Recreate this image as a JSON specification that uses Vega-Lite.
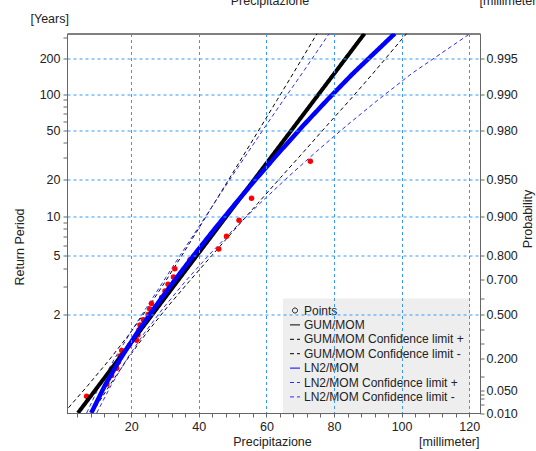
{
  "$schema": "https://vega.github.io/schema/vega-lite/v6.json",
  "width": 413,
  "height": 379.5,
  "autosize": {"type": "none"},
  "padding": {"left": 67, "top": 33.5, "right": 56, "bottom": 38},
  "background": "white",
  "title": {"text": "Arasi, Precipitazioni 1 ora", "font": "Liberation Sans", "fontSize": 14.5, "fontWeight": "bold", "color": "#000", "anchor": "middle", "frame": "group", "offset": 5},
  "datasets": {
    "gumconf": [
      {"series": "GUM/MOM Confidence limit -", "y": -1.527, "x": 0.09},
      {"series": "GUM/MOM Confidence limit -", "y": -1, "x": 7.14},
      {"series": "GUM/MOM Confidence limit -", "y": -0.5, "x": 13.57},
      {"series": "GUM/MOM Confidence limit -", "y": 0, "x": 19.56},
      {"series": "GUM/MOM Confidence limit -", "y": 0.5, "x": 25.02},
      {"series": "GUM/MOM Confidence limit -", "y": 1, "x": 30.09},
      {"series": "GUM/MOM Confidence limit -", "y": 1.5, "x": 34.98},
      {"series": "GUM/MOM Confidence limit -", "y": 2, "x": 39.76},
      {"series": "GUM/MOM Confidence limit -", "y": 2.5, "x": 44.5},
      {"series": "GUM/MOM Confidence limit -", "y": 3, "x": 49.21},
      {"series": "GUM/MOM Confidence limit -", "y": 3.5, "x": 53.9},
      {"series": "GUM/MOM Confidence limit -", "y": 4, "x": 58.58},
      {"series": "GUM/MOM Confidence limit -", "y": 4.5, "x": 63.25},
      {"series": "GUM/MOM Confidence limit -", "y": 5, "x": 67.91},
      {"series": "GUM/MOM Confidence limit -", "y": 5.77, "x": 75.0},
      {"series": "GUM/MOM Confidence limit +", "y": -1.527, "x": 8.39},
      {"series": "GUM/MOM Confidence limit +", "y": -1, "x": 13.58},
      {"series": "GUM/MOM Confidence limit +", "y": -0.5, "x": 18.77},
      {"series": "GUM/MOM Confidence limit +", "y": 0, "x": 24.4},
      {"series": "GUM/MOM Confidence limit +", "y": 0.5, "x": 30.56},
      {"series": "GUM/MOM Confidence limit +", "y": 1, "x": 37.11},
      {"series": "GUM/MOM Confidence limit +", "y": 1.5, "x": 43.84},
      {"series": "GUM/MOM Confidence limit +", "y": 2, "x": 50.6},
      {"series": "GUM/MOM Confidence limit +", "y": 2.5, "x": 57.4},
      {"series": "GUM/MOM Confidence limit +", "y": 3, "x": 64.2},
      {"series": "GUM/MOM Confidence limit +", "y": 3.5, "x": 71.1},
      {"series": "GUM/MOM Confidence limit +", "y": 4, "x": 77.9},
      {"series": "GUM/MOM Confidence limit +", "y": 4.5, "x": 84.8},
      {"series": "GUM/MOM Confidence limit +", "y": 5, "x": 91.5},
      {"series": "GUM/MOM Confidence limit +", "y": 5.77, "x": 101.5}
    ],
    "ln2conf": [
      {"series": "LN2/MOM Confidence limit -", "y": -1.527, "x": 6.82},
      {"series": "LN2/MOM Confidence limit -", "y": -1, "x": 10.63},
      {"series": "LN2/MOM Confidence limit -", "y": -0.5, "x": 14.91},
      {"series": "LN2/MOM Confidence limit -", "y": 0, "x": 19.61},
      {"series": "LN2/MOM Confidence limit -", "y": 0.5, "x": 24.51},
      {"series": "LN2/MOM Confidence limit -", "y": 1, "x": 29.46},
      {"series": "LN2/MOM Confidence limit -", "y": 1.5, "x": 34.44},
      {"series": "LN2/MOM Confidence limit -", "y": 2, "x": 39.46},
      {"series": "LN2/MOM Confidence limit -", "y": 2.5, "x": 44.5},
      {"series": "LN2/MOM Confidence limit -", "y": 3, "x": 49.56},
      {"series": "LN2/MOM Confidence limit -", "y": 3.5, "x": 54.68},
      {"series": "LN2/MOM Confidence limit -", "y": 4, "x": 59.87},
      {"series": "LN2/MOM Confidence limit -", "y": 4.5, "x": 65.14},
      {"series": "LN2/MOM Confidence limit -", "y": 5, "x": 70.53},
      {"series": "LN2/MOM Confidence limit -", "y": 5.77, "x": 78.6},
      {"series": "LN2/MOM Confidence limit +", "y": -1.527, "x": 9.79},
      {"series": "LN2/MOM Confidence limit +", "y": -1, "x": 14.0},
      {"series": "LN2/MOM Confidence limit +", "y": -0.5, "x": 18.59},
      {"series": "LN2/MOM Confidence limit +", "y": 0, "x": 23.79},
      {"series": "LN2/MOM Confidence limit +", "y": 0.5, "x": 29.59},
      {"series": "LN2/MOM Confidence limit +", "y": 1, "x": 35.96},
      {"series": "LN2/MOM Confidence limit +", "y": 1.5, "x": 42.86},
      {"series": "LN2/MOM Confidence limit +", "y": 2, "x": 50.25},
      {"series": "LN2/MOM Confidence limit +", "y": 2.5, "x": 58.04},
      {"series": "LN2/MOM Confidence limit +", "y": 3, "x": 66.22},
      {"series": "LN2/MOM Confidence limit +", "y": 3.5, "x": 74.79},
      {"series": "LN2/MOM Confidence limit +", "y": 4, "x": 83.75},
      {"series": "LN2/MOM Confidence limit +", "y": 4.5, "x": 93.15},
      {"series": "LN2/MOM Confidence limit +", "y": 5, "x": 102.99},
      {"series": "LN2/MOM Confidence limit +", "y": 5.77, "x": 120.3}
    ],
    "gum": [
      {"series": "GUM/MOM", "y": -1.527, "x": 4.24},
      {"series": "GUM/MOM", "y": 0, "x": 21.98},
      {"series": "GUM/MOM", "y": 2, "x": 45.22},
      {"series": "GUM/MOM", "y": 4, "x": 68.46},
      {"series": "GUM/MOM", "y": 5.77, "x": 89.03}
    ],
    "ln2": [
      {"series": "LN2/MOM", "y": -1.527, "x": 8.17},
      {"series": "LN2/MOM", "y": -1, "x": 12.2},
      {"series": "LN2/MOM", "y": -0.5, "x": 16.65},
      {"series": "LN2/MOM", "y": 0, "x": 21.6},
      {"series": "LN2/MOM", "y": 0.5, "x": 26.93},
      {"series": "LN2/MOM", "y": 1, "x": 32.55},
      {"series": "LN2/MOM", "y": 1.5, "x": 38.42},
      {"series": "LN2/MOM", "y": 2, "x": 44.53},
      {"series": "LN2/MOM", "y": 2.5, "x": 50.82},
      {"series": "LN2/MOM", "y": 3, "x": 57.29},
      {"series": "LN2/MOM", "y": 3.5, "x": 64.0},
      {"series": "LN2/MOM", "y": 4, "x": 70.9},
      {"series": "LN2/MOM", "y": 4.5, "x": 78.1},
      {"series": "LN2/MOM", "y": 5, "x": 85.6},
      {"series": "LN2/MOM", "y": 5.77, "x": 98.0}
    ],
    "points": [
      {"x": 6.8, "y": -1.2036},
      {"x": 12.8, "y": -0.9704},
      {"x": 14.2, "y": -0.8036},
      {"x": 15.7, "y": -0.6658},
      {"x": 16.2, "y": -0.544},
      {"x": 16.7, "y": -0.432},
      {"x": 17.2, "y": -0.3266},
      {"x": 19.5, "y": -0.2254},
      {"x": 21.6, "y": -0.1266},
      {"x": 22.0, "y": -0.0292},
      {"x": 22.3, "y": 0.068},
      {"x": 22.6, "y": 0.1657},
      {"x": 23.6, "y": 0.2648},
      {"x": 25.0, "y": 0.3665},
      {"x": 25.5, "y": 0.4713},
      {"x": 26.0, "y": 0.5805},
      {"x": 29.0, "y": 0.6951},
      {"x": 30.0, "y": 0.8169},
      {"x": 30.9, "y": 0.9472},
      {"x": 32.5, "y": 1.0892},
      {"x": 32.9, "y": 1.2459},
      {"x": 37.4, "y": 1.4222},
      {"x": 45.9, "y": 1.626},
      {"x": 48.2, "y": 1.8698},
      {"x": 51.9, "y": 2.1775},
      {"x": 55.6, "y": 2.6022},
      {"x": 73.0, "y": 3.3141}
    ]
  },
  "layer": [
    {
      "data": {"name": "gumconf"},
      "mark": {"type": "line", "strokeWidth": 1, "clip": true},
      "encoding": {
        "x": {"field": "x", "type": "quantitative", "scale": {"domain": [1, 123.2], "nice": false, "zero": false},
          "axis": {"orient": "bottom", "zindex": 1, "values": [4,8,12,16,20,24,28,32,36,40,44,48,52,56,60,64,68,72,76,80,84,88,92,96,100,104,108,112,116,120],
            "labelExpr": "datum.value % 20 == 0 ? datum.label : ''", "labelFlush": false, "labelOverlap": false,
            "grid": true, "gridOpacity": {"condition": {"test": "datum.value % 20 == 0", "value": 1}, "value": 0},
            "tickSize": 4, "labelPadding": 3,
            "title": "Precipitazione", "titleX": 205, "titleY": 32, "titleAlign": "center", "titleBaseline": "alphabetic"}},
        "y": {"field": "y", "type": "quantitative", "scale": {"domain": [-1.527, 5.77], "nice": false, "zero": false},
          "axis": {"orient": "left", "zindex": 1, "values": [0.3665, 0.9027, 1.2459, 1.4999, 1.702, 1.8698, 2.0134, 2.1389, 2.2504, 2.9702, 3.3843, 3.6762, 3.9019, 4.0859, 4.2413, 4.3757, 4.4942, 4.6001, 5.2958, 5.7021],
            "labelExpr": "indexof([2,5,10,20,50,100,200], round(1/(1-exp(-exp(-datum.value))))) >= 0 ? format(round(1/(1-exp(-exp(-datum.value)))), 'd') : ''",
            "labelOverlap": false, "labelFlush": false,
            "grid": true, "gridOpacity": {"condition": {"test": "indexof([2,5,10,20,50,100,200], round(1/(1-exp(-exp(-datum.value))))) >= 0", "value": 1}, "value": 0},
            "tickSize": 4, "labelPadding": 3,
            "title": "Return Period", "titleAngle": 270, "titleX": -47.5, "titleY": 213, "titleAlign": "center", "titleBaseline": "middle"}},
        "color": {"field": "series", "type": "nominal",
          "scale": {"domain": ["Points", "GUM/MOM", "GUM/MOM Confidence limit +", "GUM/MOM Confidence limit -", "LN2/MOM", "LN2/MOM Confidence limit +", "LN2/MOM Confidence limit -"],
                    "range": ["#000000", "#000000", "#000000", "#000000", "#0000ff", "#2b2bff", "#2b2bff"]},
          "legend": {"title": "                                                                                                          ", "titleOrient": "bottom", "titleFontSize": 6, "titlePadding": 0,
            "orient": "none", "legendX": 216, "legendY": 265, "fillColor": "#eeeeee", "padding": 6,
            "labelFont": "Liberation Sans", "labelFontSize": 12, "labelColor": "#222", "rowPadding": 2.4, "labelOffset": 3, "symbolStrokeWidth": 1,
            "encode": {"symbols": {"update": {"shape": {"signal": "datum.value === 'Points' ? 'circle' : 'stroke'"}, "size": {"signal": "datum.value === 'Points' ? 25 : 100"}, "fill": {"value": "transparent"}, "strokeWidth": {"value": 1}}}}}},
        "strokeDash": {"field": "series", "type": "nominal",
          "scale": {"domain": ["Points", "GUM/MOM", "GUM/MOM Confidence limit +", "GUM/MOM Confidence limit -", "LN2/MOM", "LN2/MOM Confidence limit +", "LN2/MOM Confidence limit -"],
                    "range": [[1,0], [1,0], [4,3], [4,3], [1,0], [4,3], [4,3]]},
          "legend": {"title": "                                                                                                          ", "titleOrient": "bottom", "titleFontSize": 6, "titlePadding": 0,
            "orient": "none", "legendX": 216, "legendY": 265, "fillColor": "#eeeeee", "padding": 6}},
        "order": {"field": "y", "type": "quantitative"}
      }
    },
    {
      "data": {"name": "ln2conf"},
      "mark": {"type": "line", "strokeWidth": 1, "clip": true},
      "encoding": {
        "x": {"field": "x", "type": "quantitative", "scale": {"domain": [1, 123.2], "nice": false, "zero": false},
          "axis": {"orient": "bottom", "domain": false, "ticks": false, "labels": false, "grid": false,
            "title": "[millimeter]", "titleX": 412, "titleY": 32, "titleAlign": "right", "titleBaseline": "alphabetic"}},
        "y": {"field": "y", "type": "quantitative", "scale": {"domain": [-1.527, 5.77], "nice": false, "zero": false},
          "axis": {"orient": "right", "zindex": 1, "values": [5.2958, 4.6001, 3.9019, 2.9702, 2.2504, 1.4999, 1.0309, 0.6717, 0.3665, 0.0874, -0.1856, -0.4759, -0.834, -1.0972, -1.169, -1.2547, -1.3641, -1.5272],
            "labelExpr": "indexof(['0.995','0.990','0.980','0.950','0.900','0.800','0.700','0.500','0.200','0.050','0.010'], format(exp(-exp(-datum.value)), '.3f')) >= 0 ? format(exp(-exp(-datum.value)), '.3f') : ''",
            "labelOverlap": false, "labelFlush": false, "grid": false, "tickSize": 4, "labelPadding": 2,
            "title": "Probability", "titleAngle": 270, "titleX": 47.5, "titleY": 185, "titleAlign": "center", "titleBaseline": "middle"}},
        "color": {"field": "series", "type": "nominal"},
        "strokeDash": {"field": "series", "type": "nominal"},
        "order": {"field": "y", "type": "quantitative"}
      }
    },
    {
      "data": {"name": "points"},
      "mark": {"type": "point", "shape": "circle", "filled": true, "color": "#ff0000", "size": 30, "opacity": 1, "clip": true},
      "encoding": {
        "x": {"field": "x", "type": "quantitative", "scale": {"domain": [1, 123.2], "nice": false, "zero": false},
          "axis": {"orient": "top", "domain": false, "ticks": false, "labels": false, "grid": false,
            "title": "Precipitazione", "titleX": 202.5, "titleY": -29.5, "titleAlign": "center", "titleBaseline": "alphabetic"}},
        "y": {"field": "y", "type": "quantitative", "scale": {"domain": [-1.527, 5.77], "nice": false, "zero": false},
          "axis": {"orient": "left", "domain": false, "ticks": false, "labels": false, "grid": false,
            "title": "[Years]", "titleAngle": 0, "titleX": -37, "titleY": -11, "titleAlign": "left", "titleBaseline": "alphabetic"}}
      }
    },
    {
      "data": {"name": "gum"},
      "mark": {"type": "line", "strokeWidth": 4, "clip": true},
      "encoding": {
        "x": {"field": "x", "type": "quantitative", "scale": {"domain": [1, 123.2], "nice": false, "zero": false},
          "axis": {"orient": "top", "domain": false, "ticks": false, "labels": false, "grid": false,
            "title": "[millimeter]", "titleX": 412, "titleY": -29.5, "titleAlign": "left", "titleBaseline": "alphabetic"}},
        "y": {"field": "y", "type": "quantitative", "scale": {"domain": [-1.527, 5.77], "nice": false, "zero": false}, "axis": null},
        "color": {"field": "series", "type": "nominal"},
        "strokeDash": {"field": "series", "type": "nominal"},
        "order": {"field": "y", "type": "quantitative"}
      }
    },
    {
      "data": {"name": "ln2"},
      "mark": {"type": "line", "strokeWidth": 4.5, "clip": true},
      "encoding": {
        "x": {"field": "x", "type": "quantitative", "scale": {"domain": [1, 123.2], "nice": false, "zero": false}, "axis": null},
        "y": {"field": "y", "type": "quantitative", "scale": {"domain": [-1.527, 5.77], "nice": false, "zero": false}, "axis": null},
        "color": {"field": "series", "type": "nominal"},
        "strokeDash": {"field": "series", "type": "nominal"},
        "order": {"field": "y", "type": "quantitative"}
      }
    }
  ],
  "resolve": {"axis": {"x": "independent", "y": "independent"}},
  "config": {
    "font": "Liberation Sans",
    "view": {"stroke": "#000000", "strokeWidth": 1},
    "axis": {"labelFont": "Liberation Sans", "titleFont": "Liberation Sans", "labelFontSize": 12.5, "titleFontSize": 12.5, "titleFontWeight": "normal",
      "labelColor": "#222222", "titleColor": "#222222", "domainColor": "#666666", "tickColor": "#666666",
      "gridColor": "#3399ff", "gridDash": [3, 3], "gridWidth": 1}
  }
}
